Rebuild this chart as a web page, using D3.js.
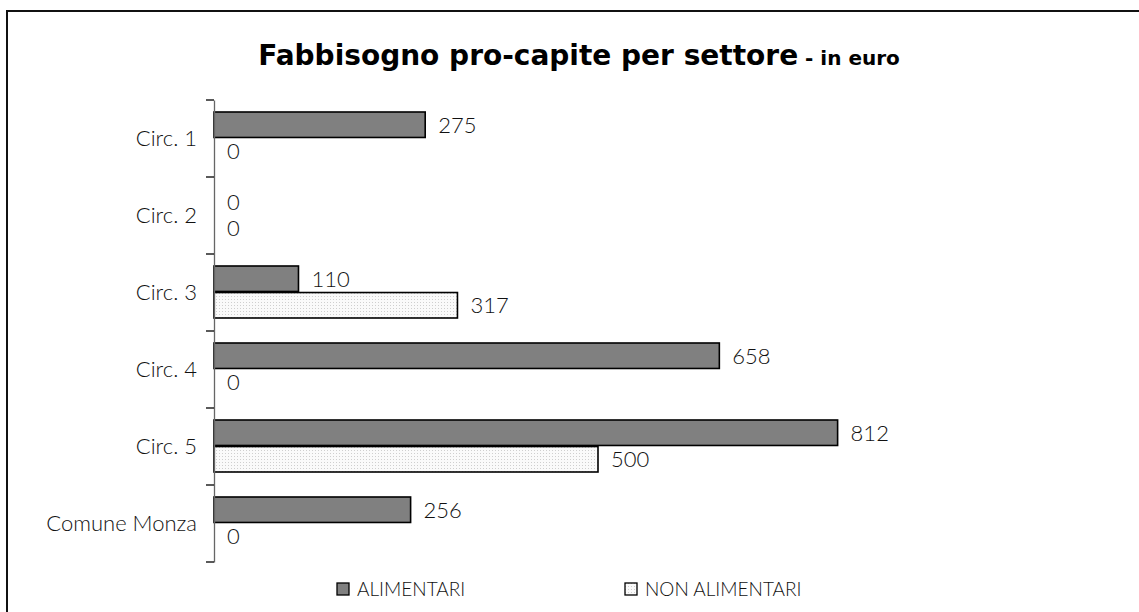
<!DOCTYPE html>
<html>
<head>
<meta charset="utf-8">
<script src="https://cdn.jsdelivr.net/npm/d3@7"></script>
<style>
  body { margin: 0; background: #fff; }
  svg { display: block; }
  text { font-family: Lato, "Open Sans", sans-serif; }
</style>
</head>
<body>
<div id="chart"></div>
<script>
const categories = ['Circ. 1', 'Circ. 2', 'Circ. 3', 'Circ. 4', 'Circ. 5', 'Comune Monza']
const series = ['ALIMENTARI', 'NON ALIMENTARI']
const alimentari = [275, 0, 110, 658, 812, 256]
const nonAlimentari = [0, 0, 317, 0, 500, 0]

const dimensions = {
  width: 1139,
  height: 612,
  margin: { top: 100, bottom: 50, left: 214, right: 157 }
}

const rows = categories.map((c, i) => ({
  cat: c,
  values: [
    { key: series[0], value: alimentari[i] },
    { key: series[1], value: nonAlimentari[i] }
  ]
}))

const svg = d3.select('#chart')
  .append('svg')
  .attr('width', dimensions.width)
  .attr('height', dimensions.height)

// dotted fill for the second series
const defs = svg.append('defs')
const pat = defs.append('pattern')
  .attr('id', 'dots')
  .attr('width', 3)
  .attr('height', 3)
  .attr('patternUnits', 'userSpaceOnUse')
pat.append('rect').attr('width', 3).attr('height', 3).attr('fill', '#fafafa')
pat.append('rect').attr('width', 1).attr('height', 1).attr('fill', '#cfcfcf')

// outer frame (cut by the page edge)
svg.append('rect')
  .attr('x', 7)
  .attr('y', 11)
  .attr('width', 1160)
  .attr('height', 640)
  .attr('fill', 'none')
  .attr('stroke', '#111')
  .attr('stroke-width', 2)

// Title
const title = svg.append('text')
  .attr('x', 579)
  .attr('y', 65)
  .attr('text-anchor', 'middle')
  .style('font-family', '"DejaVu Sans", sans-serif')
  .style('font-weight', 'bold')
  .style('fill', '#000')
title.append('tspan').style('font-size', '28px').text('Fabbisogno pro-capite per settore')
title.append('tspan').style('font-size', '20px').text(' - in euro')

// Scales
const yScale = d3.scaleBand()
  .domain(categories)
  .range([100, 562])

const yInner = d3.scaleBand()
  .domain(series)
  .range([12, 64])
  .paddingInner(0.04)

const xScale = d3.scaleLinear()
  .domain([0, 1000])
  .range([dimensions.margin.left, dimensions.margin.left + 768])

const colors = { 'ALIMENTARI': '#808080', 'NON ALIMENTARI': 'url(#dots)' }

// Bars
const groups = svg.append('g')
  .selectAll('g')
  .data(rows)
  .join('g')
  .attr('transform', d => `translate(0, ${yScale(d.cat)})`)

groups.selectAll('rect')
  .data(d => d.values.filter(v => v.value > 0))
  .join('rect')
  .attr('x', xScale(0))
  .attr('y', d => yInner(d.key))
  .attr('width', d => xScale(d.value) - xScale(0))
  .attr('height', yInner.bandwidth())
  .attr('fill', d => colors[d.key])
  .attr('stroke', '#000')
  .attr('stroke-width', 1.6)

groups.selectAll('text')
  .data(d => d.values)
  .join('text')
  .attr('x', d => xScale(d.value) + 13)
  .attr('y', d => yInner(d.key) + yInner.bandwidth() / 2)
  .attr('dy', '0.36em')
  .style('font-size', '22px')
  .style('font-weight', 300)
  .style('fill', '#111')
  .text(d => d.value)

// Axis
const yAxis = d3.axisLeft(yScale)
  .tickSize(0)
  .tickPadding(17)

const yAxisGroup = svg.append('g')
  .attr('transform', `translate(${dimensions.margin.left}, 0)`)
  .call(yAxis)

yAxisGroup.select('.domain')
  .attr('stroke', '#666')
  .attr('stroke-width', 1.3)

yAxisGroup.selectAll('.tick text')
  .style('font-size', '22px')
  .style('font-weight', 300)
  .style('font-family', 'Lato, "Open Sans", sans-serif')
  .attr('fill', '#111')

// boundary ticks between categories
const bounds = categories.map(c => yScale(c)).concat([yScale.range()[1]])
yAxisGroup.selectAll('line.sep')
  .data(bounds)
  .join('line')
  .attr('class', 'sep')
  .attr('x1', -8)
  .attr('x2', 0)
  .attr('y1', d => d)
  .attr('y2', d => d)
  .attr('stroke', '#000')
  .attr('stroke-width', 1.3)

// Legend
const legendX = [337, 625]
const legend = svg.append('g')
  .selectAll('g')
  .data(series)
  .join('g')
  .attr('transform', (d, i) => `translate(${legendX[i]}, 583)`)

legend.append('rect')
  .attr('width', 12)
  .attr('height', 12)
  .attr('fill', d => colors[d])
  .attr('stroke', '#000')
  .attr('stroke-width', 1.3)

legend.append('text')
  .attr('x', 20)
  .attr('y', 6)
  .attr('dy', '0.36em')
  .style('font-size', '19px')
  .style('font-weight', 300)
  .style('fill', '#111')
  .text(d => d)
</script>
</body>
</html>
